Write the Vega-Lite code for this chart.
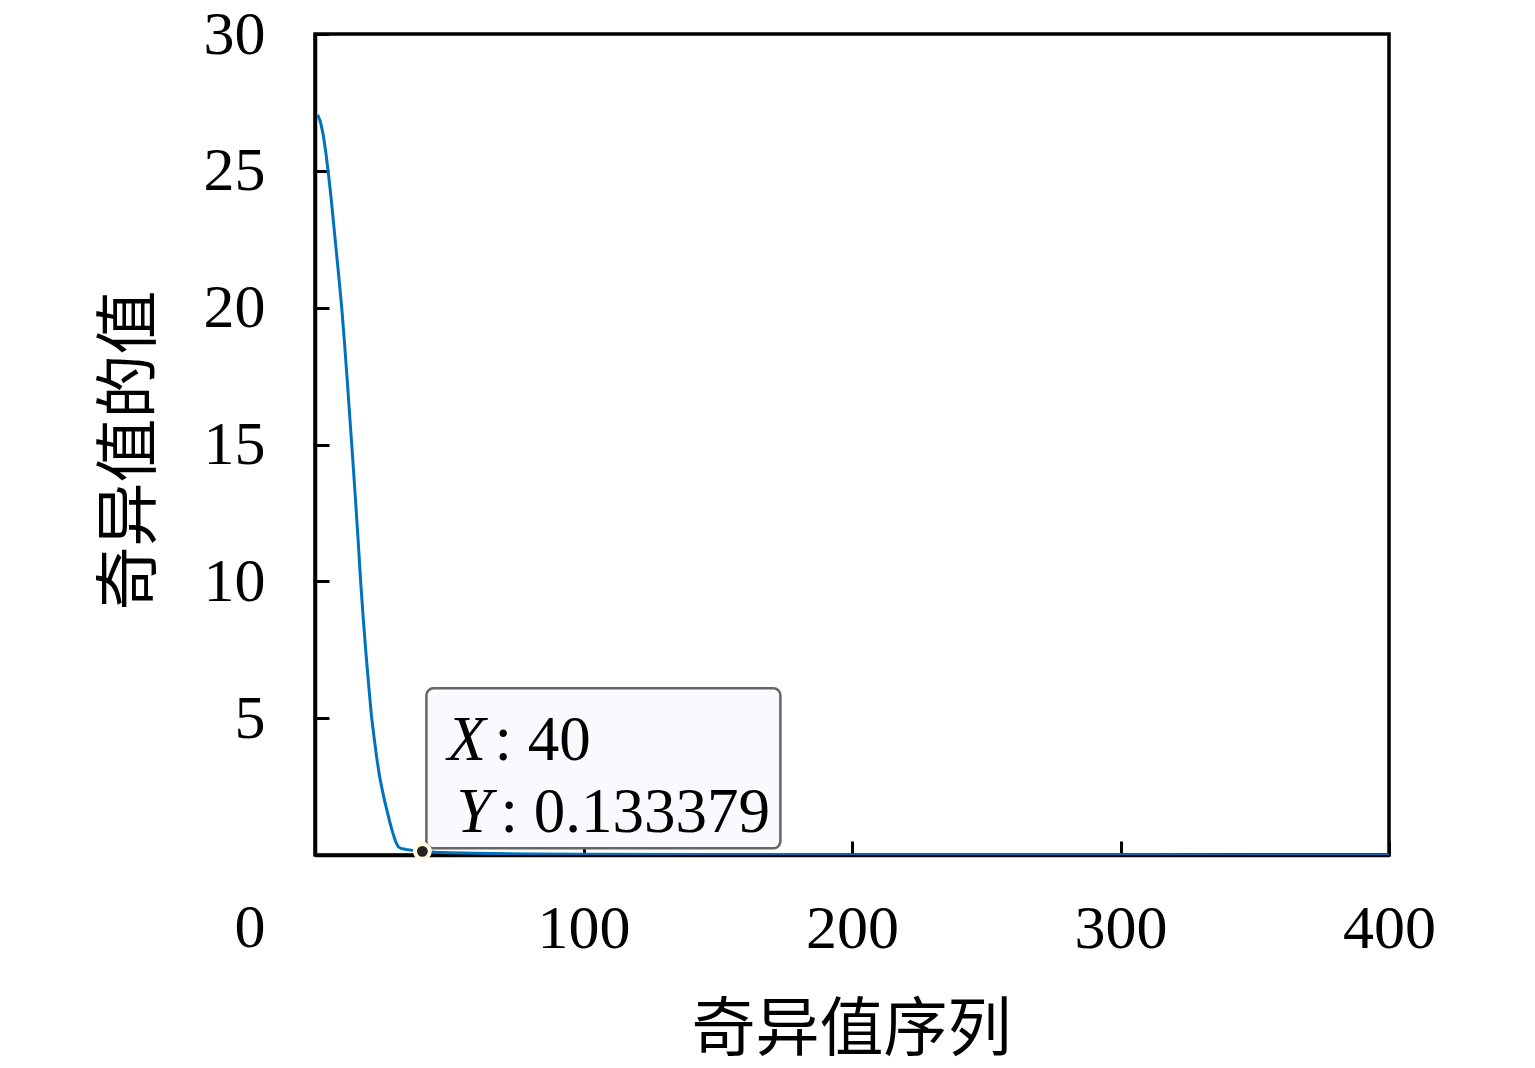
{
  "$schema": "https://vega.github.io/schema/vega-lite/v6.json",
  "width": 1074,
  "height": 821,
  "autosize": {"type": "none"},
  "padding": {"left": 315, "top": 34, "right": 146, "bottom": 213},
  "background": "white",
  "config": {
    "view": {"stroke": "black", "strokeWidth": 3.5},
    "axis": {
      "grid": false,
      "domainColor": "black",
      "domainWidth": 3.5,
      "tickColor": "black",
      "tickWidth": 3,
      "tickSize": -14,
      "labelFont": "Liberation Serif",
      "labelFontSize": 62,
      "labelColor": "black",
      "labelFlush": false,
      "titleFont": "Noto Sans CJK SC",
      "titleFontSize": 64,
      "titleFontWeight": "normal",
      "titleColor": "black"
    }
  },
  "datasets": {
    "sv": [
      {"n": 1, "v": 27.05}, {"n": 2, "v": 26.8}, {"n": 3, "v": 26.35}, {"n": 4, "v": 25.7},
      {"n": 5, "v": 24.9}, {"n": 6, "v": 24.0}, {"n": 7, "v": 23.0}, {"n": 8, "v": 22.0},
      {"n": 9, "v": 21.0}, {"n": 10, "v": 19.95}, {"n": 11, "v": 18.7}, {"n": 12, "v": 17.35},
      {"n": 13, "v": 15.95}, {"n": 14, "v": 14.55}, {"n": 15, "v": 13.1}, {"n": 16, "v": 11.6},
      {"n": 17, "v": 10.0}, {"n": 18, "v": 8.6}, {"n": 19, "v": 7.35}, {"n": 20, "v": 6.2},
      {"n": 21, "v": 5.1}, {"n": 22, "v": 4.3}, {"n": 23, "v": 3.55}, {"n": 24, "v": 2.9},
      {"n": 25, "v": 2.4}, {"n": 26, "v": 1.95}, {"n": 27, "v": 1.55}, {"n": 28, "v": 1.15},
      {"n": 29, "v": 0.8}, {"n": 30, "v": 0.5}, {"n": 31, "v": 0.3}, {"n": 32, "v": 0.24},
      {"n": 34, "v": 0.2}, {"n": 37, "v": 0.16}, {"n": 40, "v": 0.133379}, {"n": 45, "v": 0.1},
      {"n": 50, "v": 0.08}, {"n": 60, "v": 0.06}, {"n": 80, "v": 0.04}, {"n": 100, "v": 0.03},
      {"n": 150, "v": 0.02}, {"n": 200, "v": 0.012}, {"n": 250, "v": 0.008}, {"n": 300, "v": 0.005},
      {"n": 350, "v": 0.003}, {"n": 400, "v": 0.001}
    ],
    "tip": [{"n": 40, "v": 0.133379, "xl": "X", "yl": "Y", "xv": ": 40", "yv": ": 0.133379"}],
    "origin": [{"n": 0, "v": 0, "t": "0"}]
  },
  "layer": [
    {
      "data": {"name": "sv"},
      "mark": {"type": "line", "color": "#0072BD", "strokeWidth": 3, "clip": true},
      "encoding": {
        "x": {
          "field": "n", "type": "quantitative",
          "scale": {"domain": [0, 400], "nice": false, "zero": false},
          "axis": {
            "values": [0, 100, 200, 300, 400],
            "labelExpr": "datum.value == 0 ? '' : datum.label",
            "labelPadding": 57,
            "title": "奇异值序列",
            "titleX": 536,
            "titleY": 175,
            "titleBaseline": "middle",
            "titleAlign": "center"
          }
        },
        "y": {
          "field": "v", "type": "quantitative",
          "scale": {"domain": [0, 30], "nice": false},
          "axis": {
            "values": [5, 10, 15, 20, 25, 30],
            "labelPadding": 64,
            "title": "奇异值的值",
            "titleX": -185,
            "titleY": 416,
            "titleAngle": -90,
            "titleBaseline": "middle",
            "titleAlign": "center"
          }
        }
      }
    },
    {
      "data": {"name": "tip"},
      "mark": {"type": "rect", "fill": "#f9f9fe", "stroke": "#666666", "strokeWidth": 2.5, "cornerRadius": 7,
               "xOffset": 4, "x2Offset": 358, "yOffset": -3, "y2Offset": -163},
      "encoding": {
        "x": {"field": "n", "type": "quantitative"},
        "x2": {"field": "n"},
        "y": {"field": "v", "type": "quantitative"},
        "y2": {"field": "v"}
      }
    },
    {
      "data": {"name": "tip"},
      "mark": {"type": "point", "filled": true, "fill": "#222222", "stroke": "#fffbdc", "strokeWidth": 4, "size": 220, "opacity": 1},
      "encoding": {
        "x": {"field": "n", "type": "quantitative"},
        "y": {"field": "v", "type": "quantitative"}
      }
    },
    {
      "data": {"name": "tip"},
      "mark": {"type": "text", "font": "Liberation Serif", "fontSize": 63, "fontStyle": "italic", "align": "left", "baseline": "alphabetic", "dx": 25, "dy": -91, "color": "black"},
      "encoding": {
        "x": {"field": "n", "type": "quantitative"},
        "y": {"field": "v", "type": "quantitative"},
        "text": {"field": "xl"}
      }
    },
    {
      "data": {"name": "tip"},
      "mark": {"type": "text", "font": "Liberation Serif", "fontSize": 63, "align": "left", "baseline": "alphabetic", "dx": 72, "dy": -91, "color": "black"},
      "encoding": {
        "x": {"field": "n", "type": "quantitative"},
        "y": {"field": "v", "type": "quantitative"},
        "text": {"field": "xv"}
      }
    },
    {
      "data": {"name": "tip"},
      "mark": {"type": "text", "font": "Liberation Serif", "fontSize": 63, "fontStyle": "italic", "align": "left", "baseline": "alphabetic", "dx": 34, "dy": -19, "color": "black"},
      "encoding": {
        "x": {"field": "n", "type": "quantitative"},
        "y": {"field": "v", "type": "quantitative"},
        "text": {"field": "yl"}
      }
    },
    {
      "data": {"name": "tip"},
      "mark": {"type": "text", "font": "Liberation Serif", "fontSize": 63, "align": "left", "baseline": "alphabetic", "dx": 78, "dy": -19, "color": "black"},
      "encoding": {
        "x": {"field": "n", "type": "quantitative"},
        "y": {"field": "v", "type": "quantitative"},
        "text": {"field": "yv"}
      }
    },
    {
      "data": {"name": "origin"},
      "mark": {"type": "text", "font": "Liberation Serif", "fontSize": 62, "align": "center", "baseline": "top", "dx": -65, "dy": 43, "color": "black", "clip": false},
      "encoding": {
        "x": {"field": "n", "type": "quantitative"},
        "y": {"field": "v", "type": "quantitative"},
        "text": {"field": "t"}
      }
    }
  ]
}
